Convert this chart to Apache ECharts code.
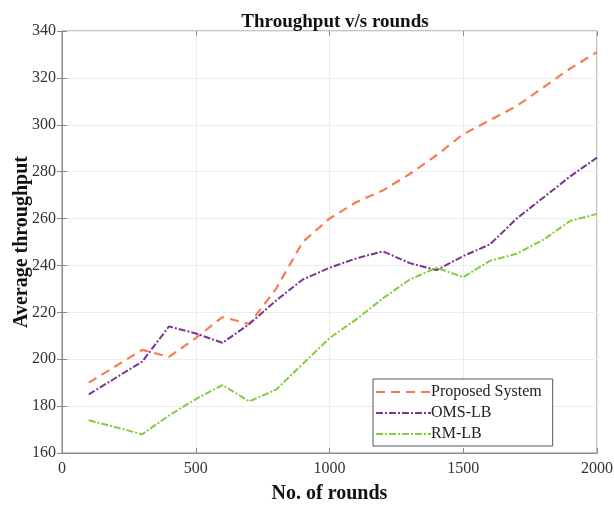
<!DOCTYPE html>
<html><head><meta charset="utf-8">
<script src="https://cdn.jsdelivr.net/npm/echarts@6/dist/echarts.min.js"></script>
<style>html,body{margin:0;padding:0;background:#fff}#c{width:614px;height:506px}</style>
</head><body><div id="c"></div>
<script>
var rounds = [100,200,300,400,500,600,700,800,900,1000,1100,1200,1300,1400,1500,1600,1700,1800,1900,2000];
var proposed = [190,197,204,201,209,218,215,230,250,260,267,272,279,287,296,302,308,316,324,331];
var omsLb = [185,192,199,214,211,207,215,225,234,239,243,246,241,238,244,249,260,269,278,286];
var rmLb = [174,171,168,176,183,189,182,187,198,209,217,226,234,239,235,242,245,251,259,262];
var seriesNames = ['Proposed System','OMS-LB','RM-LB'];
var titleText = 'Throughput v/s rounds';
var xName = 'No. of rounds';
var yName = 'Average throughput';

function pairs(v){ return rounds.map(function(r,i){ return [r, v[i]]; }); }
var font = 'Liberation Serif';
var chart = echarts.init(document.getElementById('c'));
var axCol = '#8a8a8a';
chart.setOption({
  animation:false,
  backgroundColor:'#fff',
  title:{text:titleText,left:330,top:8,textAlign:'center',textStyle:{fontFamily:font,fontWeight:'bold',fontSize:19,color:'#111'}},
  grid:{left:62,right:17,top:31,bottom:53,show:true,borderColor:axCol,borderWidth:1,outerBoundsMode:'none',containLabel:false},
  legend:{
    orient:'vertical',left:373,top:379,
    padding:[5,11,4,2],itemGap:5,itemWidth:55,itemHeight:16,
    backgroundColor:'#fff',borderColor:'#555',borderWidth:1,
    itemStyle:{opacity:0},
    textStyle:{fontFamily:font,fontSize:16,color:'#222',padding:[0,0,0,-5]},
    data:seriesNames
  },
  xAxis:[{type:'value',min:0,max:2000,interval:500,
    name:xName,nameLocation:'middle',nameGap:31,nameMoveOverlap:false,
    nameTextStyle:{fontFamily:font,fontWeight:'bold',fontSize:20,color:'#111'},
    axisLine:{show:true,lineStyle:{color:axCol}},
    axisTick:{show:true,inside:true,length:5,lineStyle:{color:axCol}},
    axisLabel:{fontFamily:font,fontSize:16,color:'#333',margin:8,formatter:function(v){return String(v);}},
    splitLine:{show:true,lineStyle:{color:'#ececec'}}},
    {type:'value',position:'top',min:0,max:2000,interval:500,
    axisLine:{show:false},axisTick:{show:true,inside:true,length:5,lineStyle:{color:axCol}},
    axisLabel:{show:false},splitLine:{show:false}}],
  yAxis:[{type:'value',min:160,max:340,interval:20,
    name:yName,nameLocation:'middle',nameGap:30,nameRotate:90,nameMoveOverlap:false,
    nameTextStyle:{fontFamily:font,fontWeight:'bold',fontSize:20,color:'#111'},
    axisLine:{show:true,lineStyle:{color:axCol}},
    axisTick:{show:true,inside:true,length:5,lineStyle:{color:axCol}},
    axisLabel:{fontFamily:font,fontSize:16,color:'#333',margin:6},
    splitLine:{show:true,lineStyle:{color:'#ececec'}}},
    {type:'value',position:'right',min:160,max:340,interval:20,
    axisLine:{show:false},axisTick:{show:true,inside:true,length:5,lineStyle:{color:axCol}},
    axisLabel:{show:false},splitLine:{show:false}}],
  series:[
    {name:seriesNames[0],type:'line',data:pairs(proposed),symbol:'none',
     lineStyle:{color:'#f77d52',width:2.2,type:[9,6]},itemStyle:{color:'#f77d52'}},
    {name:seriesNames[1],type:'line',data:pairs(omsLb),symbol:'none',
     lineStyle:{color:'#7b3590',width:2,type:[7,2,2,2]},itemStyle:{color:'#7b3590'}},
    {name:seriesNames[2],type:'line',data:pairs(rmLb),symbol:'none',
     lineStyle:{color:'#84cc38',width:2,type:[7,2,2,2]},itemStyle:{color:'#84cc38'}}
  ]
});
</script></body></html>
